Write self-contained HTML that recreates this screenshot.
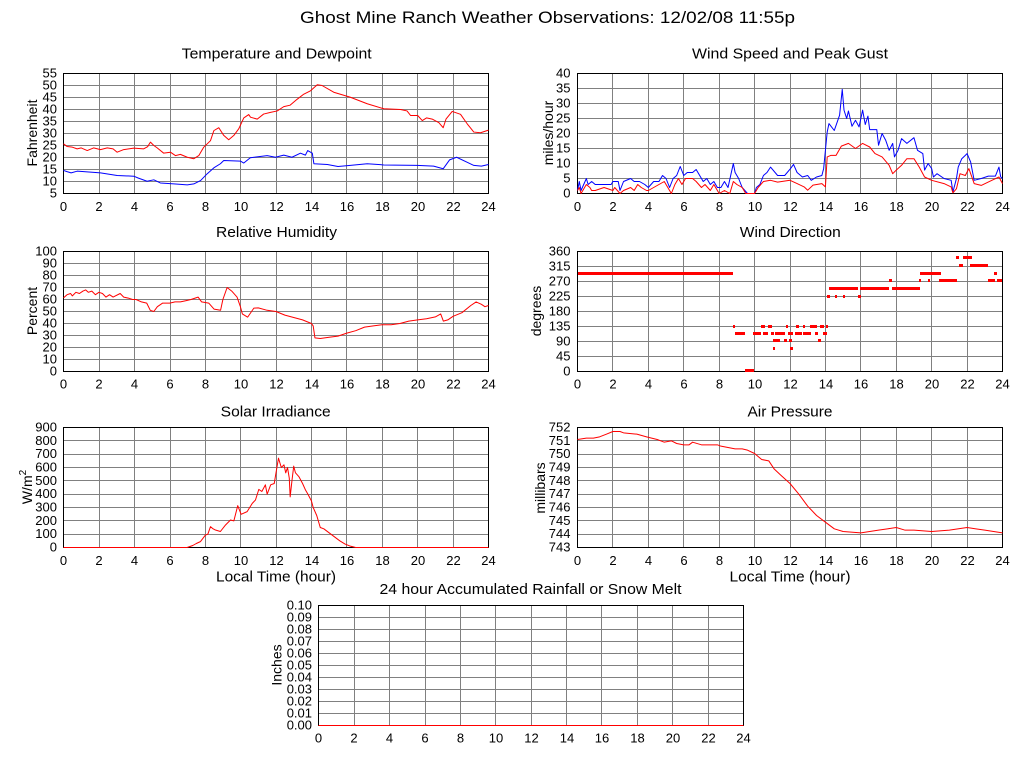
<!DOCTYPE html>
<html><head><meta charset="utf-8"><style>
html,body{margin:0;padding:0;background:#fff;}
svg{display:block;}
text{font-family:"Liberation Sans",Arial,sans-serif;fill:#000;}
.t{font-size:13px;}
.yl{text-anchor:end;}
.xl{text-anchor:middle;}
.st{font-size:15px;text-anchor:middle;}
.al{font-size:14px;text-anchor:middle;}
.g line{stroke:#808080;stroke-width:1;}
.fr{fill:none;stroke:#000;stroke-width:1;}
.s{fill:none;stroke-width:1;vector-effect:non-scaling-stroke;stroke-linejoin:round;}
</style></head><body>
<svg width="1024" height="768" viewBox="0 0 1024 768" xmlns="http://www.w3.org/2000/svg">
<rect width="1024" height="768" fill="#fff"/>
<text x="547.5" y="23" font-size="17" text-anchor="middle" textLength="495" lengthAdjust="spacingAndGlyphs">Ghost Mine Ranch Weather Observations: 12/02/08 11:55p</text>

<!-- ===== Panel A: Temperature ===== -->
<text class="st" x="276.7" y="58.5" textLength="190" lengthAdjust="spacingAndGlyphs">Temperature and Dewpoint</text>
<g class="g" shape-rendering="crispEdges">
<line x1="99.5" y1="73.5" x2="99.5" y2="193.5"/><line x1="134.5" y1="73.5" x2="134.5" y2="193.5"/><line x1="170.5" y1="73.5" x2="170.5" y2="193.5"/><line x1="205.5" y1="73.5" x2="205.5" y2="193.5"/><line x1="240.5" y1="73.5" x2="240.5" y2="193.5"/><line x1="276.5" y1="73.5" x2="276.5" y2="193.5"/><line x1="311.5" y1="73.5" x2="311.5" y2="193.5"/><line x1="346.5" y1="73.5" x2="346.5" y2="193.5"/><line x1="382.5" y1="73.5" x2="382.5" y2="193.5"/><line x1="417.5" y1="73.5" x2="417.5" y2="193.5"/><line x1="453.5" y1="73.5" x2="453.5" y2="193.5"/>
<line x1="63.5" y1="85.5" x2="488.5" y2="85.5"/><line x1="63.5" y1="97.5" x2="488.5" y2="97.5"/><line x1="63.5" y1="109.5" x2="488.5" y2="109.5"/><line x1="63.5" y1="121.5" x2="488.5" y2="121.5"/><line x1="63.5" y1="133.5" x2="488.5" y2="133.5"/><line x1="63.5" y1="145.5" x2="488.5" y2="145.5"/><line x1="63.5" y1="157.5" x2="488.5" y2="157.5"/><line x1="63.5" y1="169.5" x2="488.5" y2="169.5"/><line x1="63.5" y1="181.5" x2="488.5" y2="181.5"/>
</g>
<rect class="fr" x="63.5" y="73.5" width="425" height="120" shape-rendering="crispEdges"/>
<g class="t yl">
<text x="57" y="77.5">55</text><text x="57" y="89.5">50</text><text x="57" y="101.5">45</text><text x="57" y="113.5">40</text><text x="57" y="125.5">35</text><text x="57" y="137.5">30</text><text x="57" y="149.5">25</text><text x="57" y="161.5">20</text><text x="57" y="173.5">15</text><text x="57" y="185.5">10</text><text x="57" y="197.5">5</text>
</g>
<g class="t xl">
<text x="63.5" y="211">0</text><text x="99" y="211">2</text><text x="134.5" y="211">4</text><text x="170" y="211">6</text><text x="205.5" y="211">8</text><text x="241" y="211">10</text><text x="276.5" y="211">12</text><text x="312" y="211">14</text><text x="347" y="211">16</text><text x="382.5" y="211">18</text><text x="418" y="211">20</text><text x="453.5" y="211">22</text><text x="488.5" y="211">24</text>
</g>
<text class="al" transform="translate(37,133) rotate(-90)">Fahrenheit</text>
<g transform="translate(63.5,193.5) scale(17.7083,-2.4) translate(0,-5)">
<polyline class="s" stroke="#f00" points="0,25.7 0.2,24.6 0.5,24.3 0.77,23.6 1,24 1.34,22.9 1.7,24 2.09,23.3 2.47,24 2.8,23.6 3.03,22.2 3.4,23.3 3.97,23.9 4.53,23.6 4.75,24.5 4.91,26.4 5.1,25 5.29,24 5.66,21.8 6.04,22.2 6.32,20.8 6.6,21.3 6.99,20.1 7.36,19.5 7.64,20.8 7.92,24.3 8.3,27 8.49,31.2 8.77,32.4 9.05,29.2 9.33,27.4 9.62,29.2 9.9,32 10.18,36.5 10.46,37.9 10.56,36.8 10.94,36 11.3,38.1 11.69,38.8 12.07,39.4 12.44,41.2 12.8,41.8 13.2,44.3 13.57,46.4 13.95,47.8 14.33,50.3 14.6,50 15.26,47.2 16.2,45.1 17.15,42.4 18.09,40.3 19.03,40 19.4,39.4 19.6,37.5 20,37.5 20.26,35.4 20.5,36.5 20.82,36 21.2,34.5 21.44,32.4 21.6,36 21.95,39.2 22.42,38 22.8,34 23.17,30.6 23.55,30.3 24,31.4"/>
<polyline class="s" stroke="#00f" points="0,14.6 0.2,14.1 0.43,13.6 0.77,14.3 2.09,13.6 3.03,12.5 3.97,12.2 4.23,11.4 4.72,10.1 5.1,10.7 5.47,9.4 6.23,9 6.99,8.6 7.36,9 7.74,10.4 8.11,13.2 8.49,15.7 8.86,17.4 9.05,18.75 9.99,18.5 10.18,17.7 10.55,19.9 11.5,20.8 11.97,20.1 12.44,21 12.9,20.1 13.38,21.8 13.66,21 13.79,22.9 14.05,21.8 14.14,17.4 14.9,17.1 15.5,16.25 16.2,16.7 17.15,17.4 18.09,16.9 19.97,16.7 20.9,16.4 21.44,15.3 21.8,19 22.2,20.1 22.8,18 23.17,16.7 23.6,16.4 24,17.1"/>
</g>

<!-- ===== Panel B: Wind Speed ===== -->
<text class="st" x="790" y="58.5" textLength="196" lengthAdjust="spacingAndGlyphs">Wind Speed and Peak Gust</text>
<g class="g" shape-rendering="crispEdges">
<line x1="612.5" y1="73.5" x2="612.5" y2="193.5"/><line x1="648.5" y1="73.5" x2="648.5" y2="193.5"/><line x1="683.5" y1="73.5" x2="683.5" y2="193.5"/><line x1="719.5" y1="73.5" x2="719.5" y2="193.5"/><line x1="754.5" y1="73.5" x2="754.5" y2="193.5"/><line x1="790.5" y1="73.5" x2="790.5" y2="193.5"/><line x1="825.5" y1="73.5" x2="825.5" y2="193.5"/><line x1="860.5" y1="73.5" x2="860.5" y2="193.5"/><line x1="896.5" y1="73.5" x2="896.5" y2="193.5"/><line x1="931.5" y1="73.5" x2="931.5" y2="193.5"/><line x1="967.5" y1="73.5" x2="967.5" y2="193.5"/>
<line x1="577.5" y1="88.5" x2="1002.5" y2="88.5"/><line x1="577.5" y1="103.5" x2="1002.5" y2="103.5"/><line x1="577.5" y1="118.5" x2="1002.5" y2="118.5"/><line x1="577.5" y1="133.5" x2="1002.5" y2="133.5"/><line x1="577.5" y1="148.5" x2="1002.5" y2="148.5"/><line x1="577.5" y1="163.5" x2="1002.5" y2="163.5"/><line x1="577.5" y1="178.5" x2="1002.5" y2="178.5"/>
</g>
<rect class="fr" x="577.5" y="73.5" width="425" height="120" shape-rendering="crispEdges"/>
<g class="t yl">
<text x="570.5" y="77.5">40</text><text x="570.5" y="92.5">35</text><text x="570.5" y="107.5">30</text><text x="570.5" y="122.5">25</text><text x="570.5" y="137.5">20</text><text x="570.5" y="152.5">15</text><text x="570.5" y="167.5">10</text><text x="570.5" y="182.5">5</text><text x="570.5" y="197.5">0</text>
</g>
<g class="t xl">
<text x="577.5" y="211">0</text><text x="613" y="211">2</text><text x="648.5" y="211">4</text><text x="684" y="211">6</text><text x="719.5" y="211">8</text><text x="755" y="211">10</text><text x="790.5" y="211">12</text><text x="826" y="211">14</text><text x="861" y="211">16</text><text x="896.5" y="211">18</text><text x="932" y="211">20</text><text x="967.5" y="211">22</text><text x="1002.5" y="211">24</text>
</g>
<text class="al" transform="translate(553,133) rotate(-90)">miles/hour</text>
<g transform="translate(577.5,193.5) scale(17.7083,-3)">
<polyline class="s" stroke="#00f" points="0,1 0.1,4 0.2,1 0.35,3 0.5,5 0.6,3 0.8,4 1,3 1.5,3 1.9,3 2,4 2.3,4 2.4,1 2.6,4 3,5 3.2,4 3.5,4 3.8,3 4,2 4.3,4 4.6,4 4.8,6 5,5 5.2,2 5.4,5 5.6,6 5.8,9 6,6 6.2,7 6.5,7 6.7,8 6.9,6 7.1,4 7.3,5 7.5,3 7.7,4 7.9,2 8.1,2 8.3,4 8.5,2 8.8,10 8.9,7 9.1,5 9.3,2 9.6,0 10,0 10.1,2 10.3,3 10.5,6 10.7,7 10.9,8.8 11.3,6 11.7,6 12.03,8.3 12.2,9.7 12.4,7 12.7,5.5 13,6 13.2,4.4 13.5,5.5 13.8,6 13.9,8.3 14.1,20.5 14.2,23.3 14.5,21 14.7,24.4 14.8,26.1 14.95,34.7 15.05,27.8 15.2,25 15.3,27.5 15.5,22.4 15.7,24.4 15.9,22.2 16.1,27.8 16.25,23 16.4,25.8 16.5,21.3 16.9,21.3 17,16.1 17.2,20 17.4,17.8 17.6,14.4 17.8,16.7 17.9,12.2 18.1,14.4 18.3,18.3 18.6,16.7 19,18.6 19.2,14.4 19.5,13.3 19.6,7.8 19.8,10 20,8.3 20.1,5.5 20.3,6.6 20.7,5 21.1,4.4 21.2,0.5 21.4,5 21.5,8.8 21.7,11.6 21.9,12.7 22,13.3 22.2,10.5 22.4,4.4 22.8,5 23.2,5.8 23.6,5.8 23.8,8.8 23.9,5.5 24,5"/>
<polyline class="s" stroke="#f00" points="0,1 0.1,2 0.2,0 0.3,1 0.5,3 0.7,2 0.8,1 1,1 1.5,2 2,1 2.1,2 2.4,0 2.6,1 3,2 3.2,1 3.4,3 3.6,2 3.9,1 4,1 4.3,2 4.6,3 4.9,4 5.1,2 5.3,0 5.5,3 5.7,5 5.9,3 6.1,5 6.5,5 6.7,4 7,2 7.2,3 7.5,1 7.7,3 8,0 8.3,1 8.6,0 8.8,4 9,3 9.3,2 9.5,0 10,0 10.2,2 10.5,4 10.9,4.4 11.3,3.8 12,4.4 12.4,3.3 12.8,2.2 13,1.1 13.3,2.8 13.8,3.3 14,2.2 14.1,12.2 14.3,12.7 14.6,12.7 14.9,15.8 15.3,16.7 15.7,15 16.1,16.7 16.5,15.5 16.8,13.3 17.2,12.2 17.6,9.4 17.8,6.6 18,7.8 18.3,9.4 18.6,11.6 19,11.6 19.3,8.8 19.6,5.5 20,4.4 20.7,3.3 21.1,2.2 21.2,0.2 21.4,1.6 21.6,6.6 21.9,6 22.1,8.3 22.4,3.3 22.8,2.7 23.4,4.4 23.8,5.5 24,3.3"/>
</g>

<!-- ===== Panel C: Relative Humidity ===== -->
<text class="st" x="276.5" y="237" textLength="121" lengthAdjust="spacingAndGlyphs">Relative Humidity</text>
<g class="g" shape-rendering="crispEdges">
<line x1="99.5" y1="251.5" x2="99.5" y2="371.5"/><line x1="134.5" y1="251.5" x2="134.5" y2="371.5"/><line x1="170.5" y1="251.5" x2="170.5" y2="371.5"/><line x1="205.5" y1="251.5" x2="205.5" y2="371.5"/><line x1="240.5" y1="251.5" x2="240.5" y2="371.5"/><line x1="276.5" y1="251.5" x2="276.5" y2="371.5"/><line x1="311.5" y1="251.5" x2="311.5" y2="371.5"/><line x1="346.5" y1="251.5" x2="346.5" y2="371.5"/><line x1="382.5" y1="251.5" x2="382.5" y2="371.5"/><line x1="417.5" y1="251.5" x2="417.5" y2="371.5"/><line x1="453.5" y1="251.5" x2="453.5" y2="371.5"/>
<line x1="63.5" y1="263.5" x2="488.5" y2="263.5"/><line x1="63.5" y1="275.5" x2="488.5" y2="275.5"/><line x1="63.5" y1="287.5" x2="488.5" y2="287.5"/><line x1="63.5" y1="299.5" x2="488.5" y2="299.5"/><line x1="63.5" y1="311.5" x2="488.5" y2="311.5"/><line x1="63.5" y1="323.5" x2="488.5" y2="323.5"/><line x1="63.5" y1="335.5" x2="488.5" y2="335.5"/><line x1="63.5" y1="347.5" x2="488.5" y2="347.5"/><line x1="63.5" y1="359.5" x2="488.5" y2="359.5"/>
</g>
<rect class="fr" x="63.5" y="251.5" width="425" height="120" shape-rendering="crispEdges"/>
<g class="t yl">
<text x="57" y="255.5">100</text><text x="57" y="267.5">90</text><text x="57" y="279.5">80</text><text x="57" y="291.5">70</text><text x="57" y="303.5">60</text><text x="57" y="315.5">50</text><text x="57" y="327.5">40</text><text x="57" y="339.5">30</text><text x="57" y="351.5">20</text><text x="57" y="363.5">10</text><text x="57" y="375.5">0</text>
</g>
<g class="t xl">
<text x="63.5" y="388.5">0</text><text x="99" y="388.5">2</text><text x="134.5" y="388.5">4</text><text x="170" y="388.5">6</text><text x="205.5" y="388.5">8</text><text x="241" y="388.5">10</text><text x="276.5" y="388.5">12</text><text x="312" y="388.5">14</text><text x="347" y="388.5">16</text><text x="382.5" y="388.5">18</text><text x="418" y="388.5">20</text><text x="453.5" y="388.5">22</text><text x="488.5" y="388.5">24</text>
</g>
<text class="al" transform="translate(37,311) rotate(-90)">Percent</text>
<g transform="translate(63.5,371.5) scale(17.7083,-1.2)">
<polyline class="s" stroke="#f00" points="0,61.4 0.2,64 0.4,65 0.5,63 0.7,66 0.9,65 1.1,67 1.25,68 1.4,66 1.6,67 1.8,64 2,66 2.2,65 2.4,62 2.6,64 2.8,62 3.2,65 3.4,62 3.7,61 3.9,60 4.1,60 4.4,58 4.7,57 4.9,51 5.1,50 5.3,54 5.6,57 6,57 6.3,58 6.6,58 6.9,59 7.2,60 7.6,62 7.8,58 8.2,57 8.5,52 8.87,51 9,60 9.24,70 9.5,67 9.8,62 9.99,54 10.1,48 10.4,45.3 10.75,52.8 11,53 11.5,51 12,50 12.5,47 13,45 13.5,43 14,40 14.1,38 14.2,28 14.5,27.5 15,28.5 15.5,29.5 16,32 16.5,34 17,37 17.5,38 18,39 18.5,39 19,40 19.5,42 20,43 20.5,44 21,45.5 21.3,48 21.45,42 21.7,43 22,46 22.5,49 23,55 23.3,58 23.6,56 23.8,54 24,55"/>
</g>

<!-- ===== Panel D: Wind Direction ===== -->
<text class="st" x="790.3" y="237" textLength="101" lengthAdjust="spacingAndGlyphs">Wind Direction</text>
<g class="g" shape-rendering="crispEdges">
<line x1="612.5" y1="251.5" x2="612.5" y2="371.5"/><line x1="648.5" y1="251.5" x2="648.5" y2="371.5"/><line x1="683.5" y1="251.5" x2="683.5" y2="371.5"/><line x1="719.5" y1="251.5" x2="719.5" y2="371.5"/><line x1="754.5" y1="251.5" x2="754.5" y2="371.5"/><line x1="790.5" y1="251.5" x2="790.5" y2="371.5"/><line x1="825.5" y1="251.5" x2="825.5" y2="371.5"/><line x1="860.5" y1="251.5" x2="860.5" y2="371.5"/><line x1="896.5" y1="251.5" x2="896.5" y2="371.5"/><line x1="931.5" y1="251.5" x2="931.5" y2="371.5"/><line x1="967.5" y1="251.5" x2="967.5" y2="371.5"/>
<line x1="577.5" y1="266.5" x2="1002.5" y2="266.5"/><line x1="577.5" y1="281.5" x2="1002.5" y2="281.5"/><line x1="577.5" y1="296.5" x2="1002.5" y2="296.5"/><line x1="577.5" y1="311.5" x2="1002.5" y2="311.5"/><line x1="577.5" y1="326.5" x2="1002.5" y2="326.5"/><line x1="577.5" y1="341.5" x2="1002.5" y2="341.5"/><line x1="577.5" y1="356.5" x2="1002.5" y2="356.5"/>
</g>
<rect class="fr" x="577.5" y="251.5" width="425" height="120" shape-rendering="crispEdges"/>
<g class="t yl">
<text x="570.5" y="255.5">360</text><text x="570.5" y="270.5">315</text><text x="570.5" y="285.5">270</text><text x="570.5" y="300.5">225</text><text x="570.5" y="315.5">180</text><text x="570.5" y="330.5">135</text><text x="570.5" y="345.5">90</text><text x="570.5" y="360.5">45</text><text x="570.5" y="375.5">0</text>
</g>
<g class="t xl">
<text x="577.5" y="388.5">0</text><text x="613" y="388.5">2</text><text x="648.5" y="388.5">4</text><text x="684" y="388.5">6</text><text x="719.5" y="388.5">8</text><text x="755" y="388.5">10</text><text x="790.5" y="388.5">12</text><text x="826" y="388.5">14</text><text x="861" y="388.5">16</text><text x="896.5" y="388.5">18</text><text x="932" y="388.5">20</text><text x="967.5" y="388.5">22</text><text x="1002.5" y="388.5">24</text>
</g>
<text class="al" transform="translate(541,311) rotate(-90)">degrees</text>
<g fill="#f00" shape-rendering="crispEdges">
<rect x="578" y="272" width="155" height="3"/><rect x="920" y="272" width="21" height="3"/><rect x="994" y="272" width="3" height="3"/>
<rect x="733" y="325" width="2" height="3"/><rect x="761" y="325" width="4" height="3"/><rect x="768" y="325" width="4" height="3"/><rect x="786" y="325" width="2" height="3"/><rect x="796" y="325" width="3" height="3"/><rect x="803" y="325" width="2" height="3"/><rect x="810" y="325" width="7" height="3"/><rect x="820" y="325" width="4" height="3"/><rect x="826" y="325" width="2" height="3"/>
<rect x="735" y="332" width="10" height="3"/><rect x="753" y="332" width="8" height="3"/><rect x="763" y="332" width="5" height="3"/><rect x="771" y="332" width="3" height="3"/><rect x="775" y="332" width="10" height="3"/><rect x="788" y="332" width="5" height="3"/><rect x="795" y="332" width="7" height="3"/><rect x="803" y="332" width="8" height="3"/><rect x="815" y="332" width="3" height="3"/><rect x="823" y="332" width="4" height="3"/>
<rect x="745" y="369" width="9" height="3"/>
<rect x="773" y="339" width="7" height="3"/><rect x="784" y="339" width="3" height="3"/><rect x="789" y="339" width="3" height="3"/><rect x="818" y="339" width="3" height="3"/>
<rect x="773" y="347" width="2" height="3"/><rect x="790" y="347" width="3" height="3"/>
<rect x="827" y="295" width="3" height="3"/><rect x="835" y="295" width="2" height="3"/><rect x="843" y="295" width="2" height="3"/><rect x="858" y="295" width="3" height="3"/>
<rect x="829" y="287" width="29" height="3"/><rect x="860" y="287" width="29" height="3"/><rect x="892" y="287" width="28" height="3"/>
<rect x="889" y="279" width="3" height="3"/><rect x="919" y="279" width="2" height="3"/><rect x="928" y="279" width="2" height="3"/><rect x="939" y="279" width="18" height="3"/><rect x="988" y="279" width="7" height="3"/><rect x="997" y="279" width="5" height="3"/>
<rect x="959" y="264" width="4" height="3"/><rect x="970" y="264" width="18" height="3"/>
<rect x="956" y="256" width="3" height="3"/><rect x="963" y="256" width="9" height="3"/>
</g>

<!-- ===== Panel E: Solar ===== -->
<text class="st" x="275.7" y="416.5" textLength="110" lengthAdjust="spacingAndGlyphs">Solar Irradiance</text>
<g class="g" shape-rendering="crispEdges">
<line x1="99.5" y1="427.5" x2="99.5" y2="547.5"/><line x1="134.5" y1="427.5" x2="134.5" y2="547.5"/><line x1="170.5" y1="427.5" x2="170.5" y2="547.5"/><line x1="205.5" y1="427.5" x2="205.5" y2="547.5"/><line x1="240.5" y1="427.5" x2="240.5" y2="547.5"/><line x1="276.5" y1="427.5" x2="276.5" y2="547.5"/><line x1="311.5" y1="427.5" x2="311.5" y2="547.5"/><line x1="346.5" y1="427.5" x2="346.5" y2="547.5"/><line x1="382.5" y1="427.5" x2="382.5" y2="547.5"/><line x1="417.5" y1="427.5" x2="417.5" y2="547.5"/><line x1="453.5" y1="427.5" x2="453.5" y2="547.5"/>
<line x1="63.5" y1="440.5" x2="488.5" y2="440.5"/><line x1="63.5" y1="454.5" x2="488.5" y2="454.5"/><line x1="63.5" y1="467.5" x2="488.5" y2="467.5"/><line x1="63.5" y1="480.5" x2="488.5" y2="480.5"/><line x1="63.5" y1="494.5" x2="488.5" y2="494.5"/><line x1="63.5" y1="507.5" x2="488.5" y2="507.5"/><line x1="63.5" y1="520.5" x2="488.5" y2="520.5"/><line x1="63.5" y1="534.5" x2="488.5" y2="534.5"/>
</g>
<rect class="fr" x="63.5" y="427.5" width="425" height="120" shape-rendering="crispEdges"/>
<g class="t yl">
<text x="57" y="431.5">900</text><text x="57" y="444.8">800</text><text x="57" y="458.2">700</text><text x="57" y="471.5">600</text><text x="57" y="484.8">500</text><text x="57" y="498.2">400</text><text x="57" y="511.5">300</text><text x="57" y="524.8">200</text><text x="57" y="538.2">100</text><text x="57" y="551.5">0</text>
</g>
<g class="t xl">
<text x="63.5" y="565">0</text><text x="99" y="565">2</text><text x="134.5" y="565">4</text><text x="170" y="565">6</text><text x="205.5" y="565">8</text><text x="241" y="565">10</text><text x="276.5" y="565">12</text><text x="312" y="565">14</text><text x="347" y="565">16</text><text x="382.5" y="565">18</text><text x="418" y="565">20</text><text x="453.5" y="565">22</text><text x="488.5" y="565">24</text>
</g>
<text class="al" transform="translate(32,487) rotate(-90)">W/m<tspan font-size="10" dy="-6">2</tspan></text>
<text class="st" x="276" y="581.5" textLength="120" lengthAdjust="spacingAndGlyphs">Local Time (hour)</text>
<g transform="translate(63.5,547.5) scale(17.7083,-0.133333)">
<polyline class="s" stroke="#f00" points="0,0 6.98,0 7.3,15 7.5,30 7.73,44 8.02,94 8.15,100 8.3,156 8.45,140 8.58,131 8.86,120 9.15,169 9.43,206 9.62,200 9.84,314 10.03,249 10.37,269 10.66,331 10.84,356 11.03,436 11.2,420 11.4,470 11.5,400 11.7,470 11.9,480 12,560 12.14,670 12.3,600 12.45,620 12.55,560 12.65,600 12.75,520 12.8,380 12.9,500 13,610 13.1,560 13.3,530 13.5,480 13.67,430 13.8,400 14,350 14.1,300 14.3,240 14.5,150 14.7,140 15,110 15.3,80 15.6,50 15.9,26 16.2,10 16.5,0 24,0"/>
</g>

<!-- ===== Panel F: Air Pressure ===== -->
<text class="st" x="790" y="416.5" textLength="85" lengthAdjust="spacingAndGlyphs">Air Pressure</text>
<g class="g" shape-rendering="crispEdges">
<line x1="612.5" y1="427.5" x2="612.5" y2="547.5"/><line x1="648.5" y1="427.5" x2="648.5" y2="547.5"/><line x1="683.5" y1="427.5" x2="683.5" y2="547.5"/><line x1="719.5" y1="427.5" x2="719.5" y2="547.5"/><line x1="754.5" y1="427.5" x2="754.5" y2="547.5"/><line x1="790.5" y1="427.5" x2="790.5" y2="547.5"/><line x1="825.5" y1="427.5" x2="825.5" y2="547.5"/><line x1="860.5" y1="427.5" x2="860.5" y2="547.5"/><line x1="896.5" y1="427.5" x2="896.5" y2="547.5"/><line x1="931.5" y1="427.5" x2="931.5" y2="547.5"/><line x1="967.5" y1="427.5" x2="967.5" y2="547.5"/>
<line x1="577.5" y1="440.5" x2="1002.5" y2="440.5"/><line x1="577.5" y1="454.5" x2="1002.5" y2="454.5"/><line x1="577.5" y1="467.5" x2="1002.5" y2="467.5"/><line x1="577.5" y1="480.5" x2="1002.5" y2="480.5"/><line x1="577.5" y1="494.5" x2="1002.5" y2="494.5"/><line x1="577.5" y1="507.5" x2="1002.5" y2="507.5"/><line x1="577.5" y1="520.5" x2="1002.5" y2="520.5"/><line x1="577.5" y1="534.5" x2="1002.5" y2="534.5"/>
</g>
<rect class="fr" x="577.5" y="427.5" width="425" height="120" shape-rendering="crispEdges"/>
<g class="t yl">
<text x="570.5" y="431.5">752</text><text x="570.5" y="444.8">751</text><text x="570.5" y="458.2">750</text><text x="570.5" y="471.5">749</text><text x="570.5" y="484.8">748</text><text x="570.5" y="498.2">747</text><text x="570.5" y="511.5">746</text><text x="570.5" y="524.8">745</text><text x="570.5" y="538.2">744</text><text x="570.5" y="551.5">743</text>
</g>
<g class="t xl">
<text x="577.5" y="565">0</text><text x="613" y="565">2</text><text x="648.5" y="565">4</text><text x="684" y="565">6</text><text x="719.5" y="565">8</text><text x="755" y="565">10</text><text x="790.5" y="565">12</text><text x="826" y="565">14</text><text x="861" y="565">16</text><text x="896.5" y="565">18</text><text x="932" y="565">20</text><text x="967.5" y="565">22</text><text x="1002.5" y="565">24</text>
</g>
<text class="al" transform="translate(545,488) rotate(-90)">millibars</text>
<text class="st" x="790" y="581.5" textLength="121" lengthAdjust="spacingAndGlyphs">Local Time (hour)</text>
<g transform="translate(577.5,547.5) scale(17.7083,-13.3333) translate(0,-743)">
<polyline class="s" stroke="#f00" points="0,751.1 0.5,751.2 0.9,751.2 1.25,751.3 1.63,751.5 2,751.7 2.4,751.7 2.6,751.6 3.35,751.5 3.9,751.3 4.5,751.1 4.9,750.9 5.3,751 5.6,750.8 6,750.7 6.3,750.7 6.5,750.9 7,750.7 7.9,750.7 8.1,750.6 8.5,750.5 8.9,750.4 9.3,750.4 9.6,750.3 10,750.05 10.4,749.6 10.8,749.5 11.1,748.9 11.5,748.4 12,747.8 12.5,747 13,746.1 13.5,745.4 14,744.9 14.5,744.4 15,744.2 16,744.1 17,744.3 17.5,744.4 18,744.5 18.5,744.3 19,744.3 20,744.2 21,744.3 22,744.5 22.5,744.4 23,744.3 24,744.1"/>
</g>

<!-- ===== Panel G: Rain ===== -->
<text class="st" x="530.5" y="594" textLength="302" lengthAdjust="spacingAndGlyphs">24 hour Accumulated Rainfall or Snow Melt</text>
<g class="g" shape-rendering="crispEdges">
<line x1="354.5" y1="605.5" x2="354.5" y2="725.5"/><line x1="389.5" y1="605.5" x2="389.5" y2="725.5"/><line x1="425.5" y1="605.5" x2="425.5" y2="725.5"/><line x1="460.5" y1="605.5" x2="460.5" y2="725.5"/><line x1="495.5" y1="605.5" x2="495.5" y2="725.5"/><line x1="531.5" y1="605.5" x2="531.5" y2="725.5"/><line x1="566.5" y1="605.5" x2="566.5" y2="725.5"/><line x1="601.5" y1="605.5" x2="601.5" y2="725.5"/><line x1="637.5" y1="605.5" x2="637.5" y2="725.5"/><line x1="672.5" y1="605.5" x2="672.5" y2="725.5"/><line x1="708.5" y1="605.5" x2="708.5" y2="725.5"/>
<line x1="318.5" y1="617.5" x2="743.5" y2="617.5"/><line x1="318.5" y1="629.5" x2="743.5" y2="629.5"/><line x1="318.5" y1="641.5" x2="743.5" y2="641.5"/><line x1="318.5" y1="653.5" x2="743.5" y2="653.5"/><line x1="318.5" y1="665.5" x2="743.5" y2="665.5"/><line x1="318.5" y1="677.5" x2="743.5" y2="677.5"/><line x1="318.5" y1="689.5" x2="743.5" y2="689.5"/><line x1="318.5" y1="701.5" x2="743.5" y2="701.5"/><line x1="318.5" y1="713.5" x2="743.5" y2="713.5"/>
</g>
<rect class="fr" x="318.5" y="605.5" width="425" height="120" shape-rendering="crispEdges"/>
<g class="t yl">
<text x="312" y="609.5">0.10</text><text x="312" y="621.5">0.09</text><text x="312" y="633.5">0.08</text><text x="312" y="645.5">0.07</text><text x="312" y="657.5">0.06</text><text x="312" y="669.5">0.05</text><text x="312" y="681.5">0.04</text><text x="312" y="693.5">0.03</text><text x="312" y="705.5">0.02</text><text x="312" y="717.5">0.01</text><text x="312" y="729.5">0.00</text>
</g>
<g class="t xl">
<text x="318.5" y="742.5">0</text><text x="354" y="742.5">2</text><text x="389.5" y="742.5">4</text><text x="425" y="742.5">6</text><text x="460.5" y="742.5">8</text><text x="496" y="742.5">10</text><text x="531.5" y="742.5">12</text><text x="567" y="742.5">14</text><text x="602" y="742.5">16</text><text x="637.5" y="742.5">18</text><text x="673" y="742.5">20</text><text x="708.5" y="742.5">22</text><text x="743.5" y="742.5">24</text>
</g>
<text class="al" transform="translate(281.5,665) rotate(-90)">Inches</text>
<line x1="318.5" y1="725.5" x2="743.5" y2="725.5" stroke="#f00" stroke-width="1" shape-rendering="crispEdges"/>
</svg>
</body></html>
